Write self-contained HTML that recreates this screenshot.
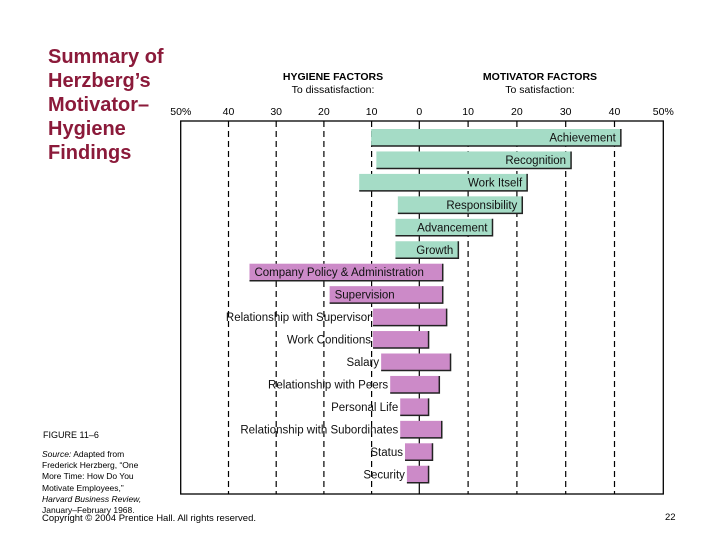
<!DOCTYPE html>
<html><head><meta charset="utf-8">
<style>
body{margin:0;width:720px;height:540px;background:#fff;overflow:hidden;position:relative;font-family:"Liberation Sans",sans-serif}
.title{position:absolute;left:48px;top:45px;color:#8b1a3a;font-weight:bold;font-size:20px;line-height:24px}
.fig{position:absolute;left:43px;top:430px;font-size:9px;color:#000}
.src{position:absolute;left:42px;top:449px;font-size:8.5px;line-height:11.2px;color:#000}
.copy{position:absolute;left:42px;top:513px;font-size:9.5px}
.pg{position:absolute;left:665px;top:512px;font-size:9.5px}
svg{position:absolute;left:0;top:0}
</style></head><body>
<div class="title">Summary of<br>Herzberg’s<br>Motivator–<br>Hygiene<br>Findings</div>
<div class="fig">FIGURE 11–6</div>
<div class="src"><i>Source:</i> Adapted from<br>Frederick Herzberg, “One<br>More Time: How Do You<br>Motivate Employees,”<br><i>Harvard Business Review,</i><br>January–February 1968.</div>
<div class="copy">Copyright © 2004 Prentice Hall. All rights reserved.</div>
<div class="pg">22</div>
<svg id="chart" width="720" height="540"></svg>
<script>
const categories=["Achievement","Recognition","Work Itself","Responsibility","Advancement","Growth","Company Policy & Administration","Supervision","Relationship with Supervisor","Work Conditions","Salary","Relationship with Peers","Personal Life","Relationship with Subordinates","Status","Security"];
const dissatisfaction=[10.1,9,12.6,4.5,5,5,35.6,18.8,9.7,9.7,8,6.1,4,4,3,2.6];
const satisfaction=[41.3,31.1,22.1,21.1,15,8,4.8,4.8,5.6,1.9,6.4,4.1,1.9,4.6,2.7,1.9];
const isMotivator=[1,1,1,1,1,1,0,0,0,0,0,0,0,0,0,0];
const labelInside=[1,1,1,1,1,1,1,1,0,0,0,0,0,0,0,0];
const tickValues=[-50,-40,-30,-20,-10,0,10,20,30,40,50];
const tickLabels=["50%","40","30","20","10","0","10","20","30","40","50%"];
const NS="http://www.w3.org/2000/svg",svg=document.getElementById('chart');
const x0=419.3;
function xs(v){return x0+v*(v>0?4.88:4.77);}
function yRow(i){return 129+i*22.45;}
function mk(t,a,p){const e=document.createElementNS(NS,t);for(const k in a)e.setAttribute(k,a[k]);(p||svg).appendChild(e);return e;}
const F='"Liberation Sans",sans-serif';
const frame=mk('rect',{x:180.7,y:121,width:482.6,height:373,fill:'none',stroke:'#000','stroke-width':1.3});


[[333,'HYGIENE FACTORS','To dissatisfaction:','hygiene-header'],[540,'MOTIVATOR FACTORS','To satisfaction:','motivator-header']].forEach(h=>{
 const g=mk('g',{});
 
 
 const a=mk('text',{x:h[0],y:80,'text-anchor':'middle','font-family':F,'font-size':10.5,'font-weight':'bold'},g);a.textContent=h[1];
 const b=mk('text',{x:h[0],y:93,'text-anchor':'middle','font-family':F,'font-size':10.5},g);b.textContent=h[2];
});
tickValues.forEach((v,i)=>{
 const x=xs(v);
 const t=mk('text',{x:x,y:115,'text-anchor':'middle','font-family':F,'font-size':10.5});
 t.textContent=tickLabels[i];
 
 
 if(Math.abs(v)<50){
  const l=mk('line',{x1:x,x2:x,y1:121,y2:494,stroke:'#000','stroke-width':1.2,'stroke-dasharray':v===0?'none':'6,4'});
  
  
 }
});
categories.forEach((c,i)=>{
 const l=xs(-dissatisfaction[i]),r=xs(satisfaction[i]),y=yRow(i),h=17;
 const g=mk('g',{});
 
 
 mk('rect',{x:l,y:y,width:r-l,height:h,fill:isMotivator[i]?'#a5dcc6':'#cc8ac8'},g);
 mk('polyline',{points:`${l},${y+h} ${r},${y+h} ${r},${y}`,fill:'none',stroke:'#222','stroke-width':1.5},g);
 const t=mk('text',{y:y+12.5,'font-family':F,'font-size':11.5,fill:'#111'},g);
 if(isMotivator[i]){t.setAttribute('x',r-5);t.setAttribute('text-anchor','end');}
 else if(labelInside[i]){t.setAttribute('x',l+5);}
 else{t.setAttribute('x',l-2);t.setAttribute('text-anchor','end');}
 t.textContent=c;
});
</script>
</body></html>
